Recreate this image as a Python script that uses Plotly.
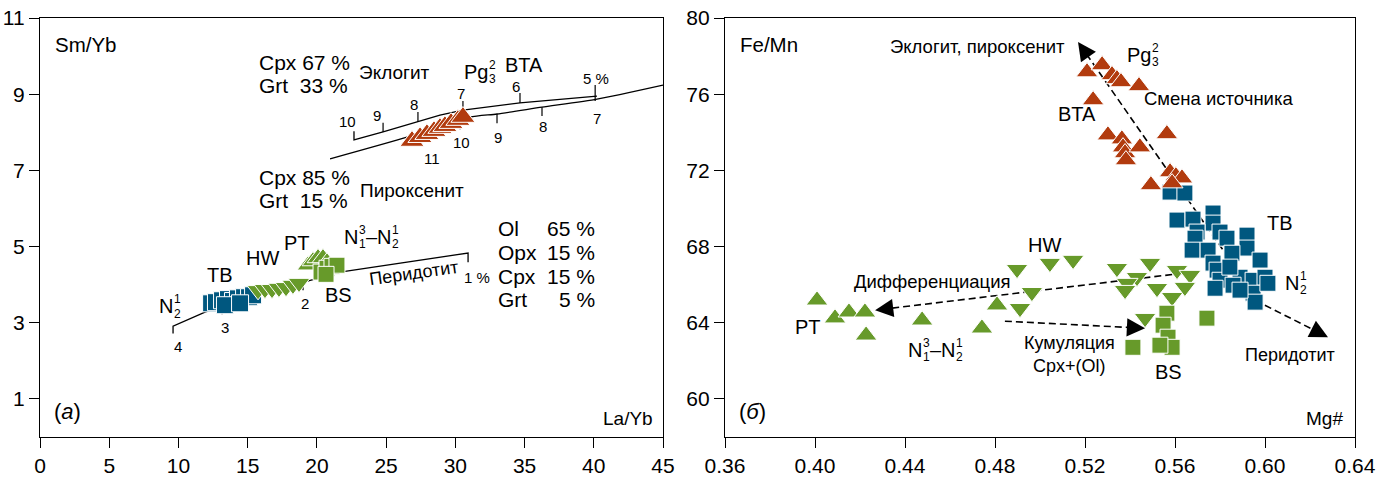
import plotly.graph_objects as go

# ---------------- LEFT PANEL DATA (La/Yb vs Sm/Yb) ----------------
tb_la = [12.36, 12.71, 13.15, 13.58, 13.94, 14.30, 14.74, 15.10, 15.39, 13.36, 14.45]
tb_sm = [3.51, 3.54, 3.59, 3.62, 3.57, 3.64, 3.67, 3.67, 3.72, 3.46, 3.51]
hw_la = [15.75, 16.25, 16.76, 17.26, 17.77, 18.27, 18.71]
hw_sm = [3.85, 3.88, 3.88, 3.91, 3.93, 3.99, 4.04]
pt_la = [19.36, 19.72, 20.08, 20.44, 20.73]
pt_sm = [4.51, 4.62, 4.70, 4.70, 4.59]
bs_la = [20.30, 20.73, 21.09, 21.45, 20.66]
bs_sm = [4.33, 4.43, 4.48, 4.51, 4.27]
bta_la = [26.87, 27.45, 27.95, 28.46, 28.89, 29.25, 29.69, 30.19, 30.55]
bta_sm = [7.77, 7.87, 7.95, 8.03, 8.11, 8.16, 8.24, 8.32, 8.40]

# model melting curves
pyrox_x = [20.95, 26.51, 31.06, 33.01, 36.26, 40.23, 45.0]
pyrox_y = [7.30, 7.87, 8.40, 8.48, 8.66, 8.87, 9.24]
eclog_x = [22.68, 22.68, 24.78, 27.30, 28.89, 30.55, 34.67, 40.23]
eclog_y = [8.03, 7.80, 8.01, 8.27, 8.45, 8.58, 8.77, 8.95]
perid_x = [9.61, 9.61, 11.92, 19.0, 21.67, 30.92, 30.92]
perid_y = [2.72, 2.91, 3.28, 4.06, 4.33, 4.83, 4.59]

# curve tick marks: (x, y0, y1)
eclog_ticks = [(24.78, 8.01, 8.25), (27.30, 8.27, 8.53), (30.55, 8.58, 8.82),
               (34.67, 8.77, 9.03), (40.10, 9.24, 8.82)]
pyrox_ticks = [(28.10, 8.06, 7.82), (30.34, 8.32, 8.08), (33.01, 8.48, 8.24),
               (36.26, 8.66, 8.43)]
perid_ticks = [(13.15, 3.40, 3.22), (19.0, 4.06, 3.85)]

eclog_lbl = [("10", 22.18, 8.27), ("9", 24.34, 8.45), ("8", 27.02, 8.74),
             ("7", 30.41, 9.03), ("6", 34.38, 9.19), ("5 %", 40.16, 9.42)]
pyrox_lbl = [("11", 28.32, 7.32), ("10", 30.41, 7.72), ("9", 33.08, 7.87),
             ("8", 36.33, 8.14), ("7", 40.23, 8.37)]
perid_lbl = [("4", 9.97, 2.38), ("3", 13.36, 2.88), ("2", 19.14, 3.51), ("1 %", 31.57, 4.20)]

ol_names = ["Ol", "Opx", "Cpx", "Grt"]
ol_vals = ["65 %", "15 %", "15 %", "5 %"]
ol_rows_y = [5.48, 4.85, 4.22, 3.62]

left_xticks = [0, 5, 10, 15, 20, 25, 30, 35, 40, 45]
left_yticks = [1, 3, 5, 7, 9, 11]

# ---------------- RIGHT PANEL DATA (Mg# vs Fe/Mn) ----------------
r_bta_mg = [0.5209, 0.5276, 0.5320, 0.5342, 0.5360, 0.5440, 0.5236, 0.5302, 0.5364,
            0.5369, 0.5378, 0.5382, 0.5444, 0.5564, 0.5493, 0.5578, 0.5604, 0.5631, 0.5587]
r_bta_fm = [77.16, 77.53, 77.01, 76.80, 76.64, 76.43, 75.69, 73.85, 73.64,
            73.22, 72.91, 72.54, 73.22, 73.91, 71.23, 71.91, 71.70, 71.59, 71.33]
r_tb_mg = [0.5578, 0.5644, 0.5609, 0.5680, 0.5769, 0.5769, 0.5800, 0.5698, 0.5689, 0.5676,
           0.5747, 0.5831, 0.5920, 0.5920, 0.5853, 0.5978, 0.5769, 0.5787, 0.5800, 0.5778,
           0.5889, 0.5947, 0.5844, 0.5858, 0.6000, 0.5947, 0.5956, 0.6013, 0.5889]
r_tb_fm = [70.86, 70.81, 69.39, 69.44, 69.76, 69.23, 68.76, 68.76, 68.44, 67.81,
           67.81, 68.44, 68.60, 67.92, 67.65, 67.29, 67.13, 66.76, 66.23, 65.81,
           66.39, 66.23, 66.92, 65.97, 66.39, 65.55, 65.08, 66.07, 65.71]
r_pt_mg = [0.4009, 0.4089, 0.4151, 0.4222, 0.4227, 0.4476, 0.4809, 0.4742]
r_pt_fm = [65.18, 64.24, 64.55, 64.55, 63.34, 64.13, 64.92, 63.71]
r_hw_mg = [0.4898, 0.5044, 0.5147, 0.4964, 0.4911, 0.5342, 0.5431, 0.5387, 0.5378,
           0.5489, 0.5520, 0.5587, 0.5609, 0.5667, 0.5644, 0.5467]
r_hw_fm = [66.81, 67.13, 67.29, 65.60, 64.76, 66.86, 66.39, 66.08, 65.71,
           67.13, 65.81, 65.34, 66.76, 66.50, 65.87, 64.24]
r_bs_mg = [0.5564, 0.5547, 0.5569, 0.5587, 0.5533, 0.5413, 0.5742]
r_bs_fm = [64.50, 63.87, 63.24, 62.71, 62.82, 62.71, 64.24]

# arrows: (tail_x, tail_y, head_x, head_y)
r_arrows = [(0.5867, 66.91, 0.5169, 78.74),
            (0.5956, 65.18, 0.6280, 63.24),
            (0.5636, 66.60, 0.4267, 64.66),
            (0.4844, 64.08, 0.5467, 63.71)]

right_xticks = [0.36, 0.40, 0.44, 0.48, 0.52, 0.56, 0.60, 0.64]
right_yticks = [60, 64, 68, 72, 76, 80]

# ---------------- STYLE ----------------
RED = "#B23B0E"
BLUE = "#00577F"
GREEN = "#679A2A"
FONT = "Liberation Sans, Arial, sans-serif"
NARROW = "Liberation Sans Narrow, Liberation Sans, Arial Narrow, sans-serif"
W, H = 1384, 479
ML, MR, MT, MB = 40, 29, 18, 42
plot_w = W - ML - MR
left_dom = [0, 623 / plot_w]
right_dom = [(725 - ML) / plot_w, 1]
XL_RANGE = [0, 45]
YL_RANGE = [0, 11]
XR_RANGE = [0.36, 0.64]
YR_RANGE = [58, 80]
plot_h = H - MT - MB

fig = go.Figure()

def mk(symbol, color, size):
    return dict(symbol=symbol, color=color, size=size, line=dict(color="white", width=1))

# left curves
fig.add_trace(go.Scatter(x=pyrox_x, y=pyrox_y, mode="lines", line=dict(color="black", width=1.3, shape="spline", smoothing=0.6),
                         xaxis="x", yaxis="y", hoverinfo="skip"))
fig.add_trace(go.Scatter(x=eclog_x, y=eclog_y, mode="lines", line=dict(color="black", width=1.3),
                         xaxis="x", yaxis="y", hoverinfo="skip"))
fig.add_trace(go.Scatter(x=perid_x, y=perid_y, mode="lines", line=dict(color="black", width=1.3),
                         xaxis="x", yaxis="y", hoverinfo="skip"))
tx, ty = [], []
for (x, y0, y1) in eclog_ticks + pyrox_ticks + perid_ticks:
    tx += [x, x, None]
    ty += [y0, y1, None]
fig.add_trace(go.Scatter(x=tx, y=ty, mode="lines", line=dict(color="black", width=1.2),
                         xaxis="x", yaxis="y", hoverinfo="skip"))

# left markers
fig.add_trace(go.Scatter(x=tb_la, y=tb_sm, mode="markers", marker=mk("square", BLUE, 17), xaxis="x", yaxis="y"))
fig.add_trace(go.Scatter(x=hw_la, y=hw_sm, mode="markers", marker=mk("triangle-down", GREEN, 19), xaxis="x", yaxis="y"))
fig.add_trace(go.Scatter(x=pt_la, y=pt_sm, mode="markers", marker=mk("triangle-up", GREEN, 19), xaxis="x", yaxis="y"))
fig.add_trace(go.Scatter(x=bs_la, y=bs_sm, mode="markers", marker=mk("square", GREEN, 16), xaxis="x", yaxis="y"))
fig.add_trace(go.Scatter(x=bta_la, y=bta_sm, mode="markers", marker=mk("triangle-up", RED, 21), xaxis="x", yaxis="y"))

# right markers
fig.add_trace(go.Scatter(x=r_pt_mg, y=r_pt_fm, mode="markers", marker=mk("triangle-up", GREEN, 19), xaxis="x2", yaxis="y2"))
fig.add_trace(go.Scatter(x=r_hw_mg, y=r_hw_fm, mode="markers", marker=mk("triangle-down", GREEN, 19), xaxis="x2", yaxis="y2"))
fig.add_trace(go.Scatter(x=r_bs_mg, y=r_bs_fm, mode="markers", marker=mk("square", GREEN, 16), xaxis="x2", yaxis="y2"))
fig.add_trace(go.Scatter(x=r_tb_mg, y=r_tb_fm, mode="markers", marker=mk("square", BLUE, 16), xaxis="x2", yaxis="y2"))
fig.add_trace(go.Scatter(x=r_bta_mg, y=r_bta_fm, mode="markers", marker=mk("triangle-up", RED, 19), xaxis="x2", yaxis="y2"))

ann = []

def text(xref, yref, x, y, t, size=18, xanchor="center", angle=0):
    ann.append(dict(xref=xref, yref=yref, x=x, y=y, text=t, showarrow=False, xanchor=xanchor,
                    yanchor="middle", textangle=angle,
                    font=dict(family=FONT, size=size, color="black")))

def stacked(xref, yref, x, y, parts, size=20):
    shift = 0.0
    for p in parts:
        if p[0] == "t":
            ann.append(dict(xref=xref, yref=yref, x=x, y=y, text=p[1], showarrow=False,
                            xanchor="left", yanchor="middle", xshift=shift,
                            font=dict(family=FONT, size=size, color="black")))
            shift += p[2] * size
        else:
            small = round(size * 0.62)
            ann.append(dict(xref=xref, yref=yref, x=x, y=y, text=p[1], showarrow=False,
                            xanchor="left", yanchor="middle", xshift=shift, yshift=size * 0.36,
                            font=dict(family=FONT, size=small, color="black")))
            ann.append(dict(xref=xref, yref=yref, x=x, y=y, text=p[2], showarrow=False,
                            xanchor="left", yanchor="middle", xshift=shift, yshift=-size * 0.36,
                            font=dict(family=FONT, size=small, color="black")))
            shift += 0.6 * small

# ---- left panel texts
text("x domain", "y domain", 0.021, 0.936, "Sm/Yb", 20.5, "left")
text("x domain", "y domain", 0.987, 0.045, "La/Yb", 19, "right")
text("x domain", "y domain", 0.019, 0.062, "(<i>а</i>)", 22, "left")
text("x", "y", 15.67, 9.82, "Cpx 67 %", 21, "left")
text("x", "y", 15.67, 9.24, "Grt  33 %", 21, "left")
text("x", "y", 22.9, 9.56, "Эклогит", 19, "left")
text("x", "y", 34.96, 9.77, "BTA", 20)
text("x", "y", 15.67, 6.82, "Cpx 85 %", 21, "left")
text("x", "y", 15.67, 6.22, "Grt  15 %", 21, "left")
text("x", "y", 22.97, 6.48, "Пироксенит", 19, "left")
text("x", "y", 18.56, 5.09, "PT", 20)
text("x", "y", 16.04, 4.69, "HW", 20)
text("x", "y", 13.0, 4.25, "TB", 20)
text("x", "y", 21.53, 3.73, "BS", 20)
text("x", "y", 27.02, 4.30, "Перидотит", 18, angle=-8)
for (t, x, y) in eclog_lbl + pyrox_lbl + perid_lbl:
    text("x", "y", x, y, t, 15)
for n, v, y in zip(ol_names, ol_vals, ol_rows_y):
    text("x", "y", 32.95, y, n, 21, "left")
    text("x", "y", 40.25, y, v, 21, "right")
stacked("x", "y", 30.48, 9.58, [("t", "Pg", 1.25), ("s", "2", "3")], 20)
stacked("x", "y", 21.81, 5.25, [("t", "N", 0.74), ("s", "3", "1"), ("t", "–N", 1.3), ("s", "1", "2")], 20)
stacked("x", "y", 8.45, 3.43, [("t", "N", 0.74), ("s", "1", "2")], 20)

# ---- right panel texts
text("x2 domain", "y2 domain", 0.021, 0.936, "Fe/Mn", 20.5, "left")
text("x2 domain", "y2 domain", 0.984, 0.045, "Mg#", 19, "right")
text("x2 domain", "y2 domain", 0.019, 0.062, "(<i>б</i>)", 22, "left")
text("x2", "y2", 0.5120, 78.48, "Эклогит, пироксенит", 18.5, "right")
text("x2", "y2", 0.5453, 75.77, "Смена источника", 18.5, "left")
text("x2", "y2", 0.5164, 74.98, "BTA", 20)
text("x2", "y2", 0.6067, 69.22, "TB", 20)
text("x2", "y2", 0.5022, 68.07, "HW", 20)
text("x2", "y2", 0.4520, 66.18, "Дифференциация", 18.5)
text("x2", "y2", 0.3969, 63.76, "PT", 20)
text("x2", "y2", 0.5133, 62.92, "Кумуляция", 18)
text("x2", "y2", 0.5133, 61.72, "Cpx+(Ol)", 18)
text("x2", "y2", 0.5569, 61.40, "BS", 20)
text("x2", "y2", 0.6111, 62.29, "Перидотит", 18)
stacked("x2", "y2", 0.5378, 78.06, [("t", "Pg", 1.25), ("s", "2", "3")], 20)
stacked("x2", "y2", 0.4404, 62.56, [("t", "N", 0.74), ("s", "3", "1"), ("t", "–N", 1.3), ("s", "1", "2")], 20)
stacked("x2", "y2", 0.6080, 66.08, [("t", "N", 0.74), ("s", "1", "2")], 20)

# ---- dashed arrows in right panel
shapes = []
right_w = plot_w * (right_dom[1] - right_dom[0])
pxx = right_w / (XR_RANGE[1] - XR_RANGE[0])
pxy = plot_h / (YR_RANGE[1] - YR_RANGE[0])
for (x0, y0, x1, y1) in r_arrows:
    dxp = (x1 - x0) * pxx
    dyp = -(y1 - y0) * pxy
    L = (dxp ** 2 + dyp ** 2) ** 0.5
    ux, uy = dxp / L, dyp / L
    back = 12.0
    shapes.append(dict(type="line", xref="x2", yref="y2", x0=x0, y0=y0,
                       x1=x1 - ux * back / pxx, y1=y1 + uy * back / pxy,
                       line=dict(color="black", width=1.6, dash="7px,4px"), layer="below"))
    ann.append(dict(xref="x2", yref="y2", x=x1, y=y1, ax=-ux * 16, ay=-uy * 16,
                    axref="pixel", ayref="pixel", text="", showarrow=True,
                    arrowhead=2, arrowsize=2.6, arrowwidth=1.4, arrowcolor="black"))

axis_common = dict(showline=True, mirror=True, linecolor="black", linewidth=1.3,
                   ticks="outside", ticklen=10, tickwidth=1.3, tickcolor="black",
                   showgrid=False, zeroline=False, automargin=False,
                   tickfont=dict(family=NARROW, size=21, color="black"))

fig.update_layout(
    width=W, height=H,
    margin=dict(l=ML, r=MR, t=MT, b=MB),
    paper_bgcolor="white", plot_bgcolor="white",
    showlegend=False,
    xaxis=dict(domain=left_dom, range=XL_RANGE, tickvals=left_xticks, anchor="y", **axis_common),
    yaxis=dict(domain=[0, 1], range=YL_RANGE, tickvals=left_yticks, anchor="x", **axis_common),
    xaxis2=dict(domain=right_dom, range=XR_RANGE, tickvals=right_xticks,
                ticktext=[f"{v:.2f}" for v in right_xticks], anchor="y2", **axis_common),
    yaxis2=dict(domain=[0, 1], range=YR_RANGE, tickvals=right_yticks, anchor="x2", **axis_common),
    annotations=ann,
    shapes=shapes,
)

fig.write_html("out.html")
